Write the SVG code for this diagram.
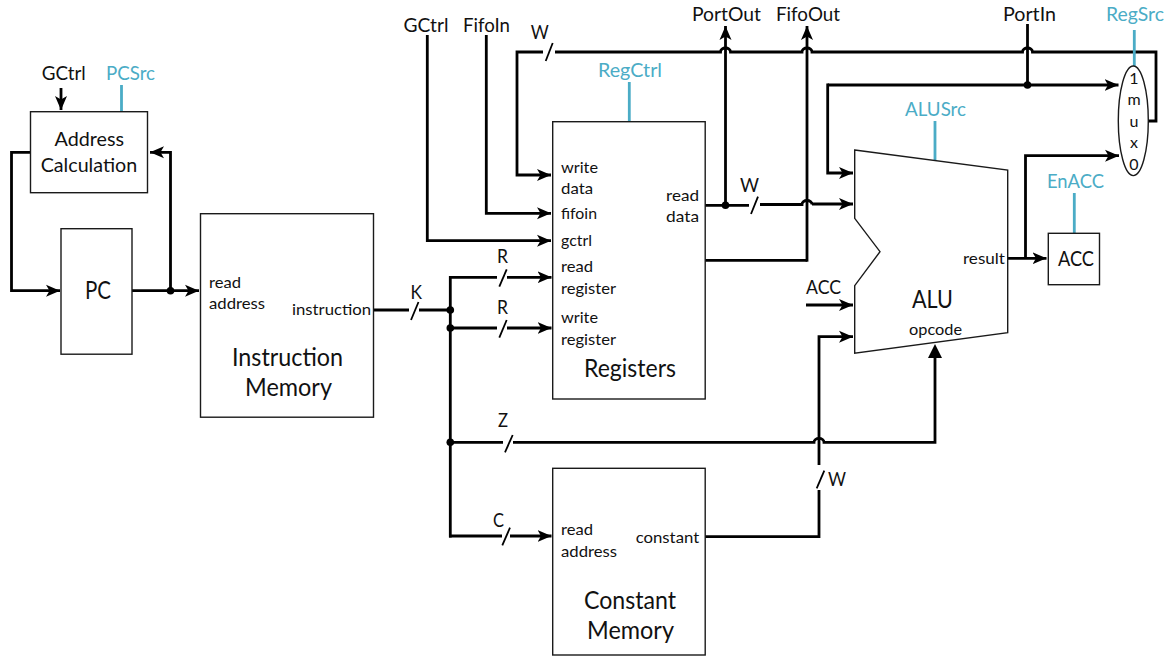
<svg xmlns="http://www.w3.org/2000/svg" width="1170" height="659" viewBox="0 0 1170 659">
<style>
text{font-family:Lato,"Open Sans",sans-serif;fill:#111;font-size:20px}
.s{font-size:16px}.m{font-size:21px}.l{font-size:25px}.c{fill:#4bacc6}
.b{fill:#fff;stroke:#1a1a1a;stroke-width:1.4}
.w{fill:none;stroke:#000;stroke-width:2.8}
.a{marker-end:url(#ah)}
.t{fill:none;stroke:#000;stroke-width:1.8}
.q{fill:none;stroke:#4bacc6;stroke-width:2.8}
.d{fill:#000}
</style>
<defs><marker id="ah" markerUnits="userSpaceOnUse" markerWidth="15" markerHeight="14" refX="14" refY="7" orient="auto"><path d="M0 1L14 7L0 13L3.500 7Z" fill="#000"/></marker></defs>
<g id="connectors">
<path class="w a" d="M30 152.300H11.500V290.700H60"/>
<path class="w a" d="M132 290.700H199"/>
<path class="w a" d="M170.500 290.700V152.300H150"/>
<path class="w a" d="M61 88V110"/>
<path class="w" d="M373.500 310H409M419 310H450.300"/>
<path class="t" d="M411 320L418.500 302"/>
<path class="w" d="M450.300 276V537.400"/>
<path class="w a" d="M449 277.300H497M507 277.300H551.500"/>
<path class="t" d="M499.300 286.700L506.700 269.300"/>
<path class="w a" d="M450.300 328H497M507 328H551.500"/>
<path class="t" d="M499.300 337.700L506.700 320"/>
<path class="w a" d="M449 536H502M510 536H551.500"/>
<path class="t" d="M502.300 545.300L510 527.700"/>
<path class="t" d="M505 452.300L512.700 435"/>
<path class="w" d="M450.300 442.300H503M513 442.300H814a5 4 0 0 1 10 0H935V358"/>
<path d="M928 358L935 344L942 358Z" class="d"/>
<path class="w a" d="M427.300 35V240.700H551"/>
<path class="w a" d="M486.300 35V213.300H551"/>
<path class="w a" d="M1148 121H1156V52H1032.500a5 4 0 0 0 -10 0H812a5 4 0 0 0 -10 0H730.500a5 4 0 0 0 -10 0H555M543 52H517V175H551"/>
<path class="t" d="M545.700 61L552.700 43"/>
<path class="w a" d="M725.500 205V26"/>
<path class="w a" d="M807 261.700V26"/>
<path class="w" d="M705 260.300H807"/>
<path class="w" d="M1027.500 24V85"/>
<path class="w a" d="M827.700 85H1118.500"/>
<path class="w a" d="M829 85H827.700V173H853"/>
<path class="w" d="M705 205.300H749M760 204.500H802a5 4 0 0 1 10 0"/>
<path class="w a" d="M812 204H853"/>
<path class="t" d="M751 214L758 196.700"/>
<path class="w a" d="M806 305H853"/>
<path class="w a" d="M705 536.700H819V490M819 465V336.700H853"/>
<path class="t" d="M816.700 488.300L824.300 470.700"/>
<path class="w a" d="M1007.700 258.300H1046.500"/>
<path class="w a" d="M1025.500 258.300V155.700H1119"/>
<circle class="d" cx="170.500" cy="290.700" r="3.800"/>
<circle class="d" cx="450.300" cy="310" r="3.800"/>
<circle class="d" cx="450.300" cy="328" r="3.800"/>
<circle class="d" cx="450.300" cy="442.300" r="3.800"/>
<circle class="d" cx="725.500" cy="205.300" r="3.800"/>
<circle class="d" cx="1027.500" cy="85" r="3.800"/>
<path class="q" d="M121.500 85V111M629.300 82V122M935 121V160M1074.300 193V233M1134.300 30V66"/>
</g>
<g id="address-calculation"><rect class="b" x="30.500" y="111.700" width="117" height="81"/>
<text x="54.500" y="146" textLength="69.500" lengthAdjust="spacingAndGlyphs">Address</text>
<text x="40.700" y="171.700" textLength="96.500" lengthAdjust="spacingAndGlyphs">Calculation</text></g>
<g id="pc"><rect class="b" x="61" y="228.700" width="71" height="125.500"/>
<text class="l" x="85" y="299" textLength="26" lengthAdjust="spacingAndGlyphs">PC</text></g>
<g id="instruction-memory"><rect class="b" x="200.500" y="213.700" width="173" height="203.500"/>
<text class="s" x="209" y="287.700" textLength="32" lengthAdjust="spacingAndGlyphs">read</text>
<text class="s" x="209" y="309.300" textLength="56" lengthAdjust="spacingAndGlyphs">address</text>
<text class="s" x="292" y="315" textLength="79" lengthAdjust="spacingAndGlyphs">instruction</text>
<text class="l" x="232" y="366" textLength="111" lengthAdjust="spacingAndGlyphs">Instruction</text>
<text class="l" x="245" y="396" textLength="87" lengthAdjust="spacingAndGlyphs">Memory</text></g>
<g id="registers"><rect class="b" x="552.700" y="121.700" width="152.500" height="277.300"/>
<text class="s" x="561" y="173" textLength="37" lengthAdjust="spacingAndGlyphs">write</text>
<text class="s" x="561" y="194" textLength="32" lengthAdjust="spacingAndGlyphs">data</text>
<text class="s" x="561" y="219" textLength="36" lengthAdjust="spacingAndGlyphs">fifoin</text>
<text class="s" x="561" y="246" textLength="31" lengthAdjust="spacingAndGlyphs">gctrl</text>
<text class="s" x="561" y="272" textLength="32" lengthAdjust="spacingAndGlyphs">read</text>
<text class="s" x="561" y="294" textLength="55" lengthAdjust="spacingAndGlyphs">register</text>
<text class="s" x="561" y="323" textLength="37" lengthAdjust="spacingAndGlyphs">write</text>
<text class="s" x="561" y="345" textLength="55" lengthAdjust="spacingAndGlyphs">register</text>
<text class="s" x="666" y="200.700" textLength="33" lengthAdjust="spacingAndGlyphs">read</text>
<text class="s" x="666" y="222" textLength="33" lengthAdjust="spacingAndGlyphs">data</text>
<text class="l" x="584" y="376.700" textLength="92" lengthAdjust="spacingAndGlyphs">Registers</text></g>
<g id="constant-memory"><rect class="b" x="552.700" y="468.300" width="152.500" height="186.700"/>
<text class="s" x="561" y="535" textLength="32" lengthAdjust="spacingAndGlyphs">read</text>
<text class="s" x="561" y="557" textLength="56" lengthAdjust="spacingAndGlyphs">address</text>
<text class="s" x="635.700" y="542.700" textLength="63.500" lengthAdjust="spacingAndGlyphs">constant</text>
<text class="l" x="584" y="609" textLength="92" lengthAdjust="spacingAndGlyphs">Constant</text>
<text class="l" x="587" y="639" textLength="87" lengthAdjust="spacingAndGlyphs">Memory</text></g>
<g id="alu"><path class="b" d="M854.700 150L1007.700 170V332.700L854.700 353.300V285.700L880 251.700L854.700 218.300Z"/>
<text class="l" x="912" y="307.700" textLength="41" lengthAdjust="spacingAndGlyphs">ALU</text>
<text class="s" x="909" y="335" textLength="53" lengthAdjust="spacingAndGlyphs">opcode</text>
<text class="s" x="963" y="264" textLength="42" lengthAdjust="spacingAndGlyphs">result</text></g>
<g id="acc"><rect class="b" x="1048.300" y="233.300" width="51.200" height="51.400"/>
<text class="m" x="1058" y="266" textLength="36" lengthAdjust="spacingAndGlyphs">ACC</text></g>
<g id="mux"><ellipse class="b" cx="1133.300" cy="120.800" rx="15" ry="54.800"/>
<text class="s" text-anchor="middle" x="1134" y="84">1</text><text class="s" text-anchor="middle" x="1134" y="105">m</text><text class="s" text-anchor="middle" x="1134" y="127">u</text><text class="s" text-anchor="middle" x="1134" y="148">x</text><text class="s" text-anchor="middle" x="1134" y="170">0</text></g>
<g id="labels">
<text x="41.700" y="80" textLength="44" lengthAdjust="spacingAndGlyphs">GCtrl</text>
<text class="c" x="106" y="80" textLength="49" lengthAdjust="spacingAndGlyphs">PCSrc</text>
<text x="403.500" y="32" textLength="45" lengthAdjust="spacingAndGlyphs">GCtrl</text>
<text x="463" y="32" textLength="47" lengthAdjust="spacingAndGlyphs">FifoIn</text>
<text x="530.700" y="39" textLength="18" lengthAdjust="spacingAndGlyphs">W</text>
<text class="c" x="598" y="77" textLength="64" lengthAdjust="spacingAndGlyphs">RegCtrl</text>
<text x="692" y="21" textLength="69" lengthAdjust="spacingAndGlyphs">PortOut</text>
<text x="776" y="21" textLength="64" lengthAdjust="spacingAndGlyphs">FifoOut</text>
<text x="1003" y="21" textLength="53" lengthAdjust="spacingAndGlyphs">PortIn</text>
<text class="c" x="1106" y="21" textLength="58" lengthAdjust="spacingAndGlyphs">RegSrc</text>
<text class="c" x="905" y="115.700" textLength="61" lengthAdjust="spacingAndGlyphs">ALUSrc</text>
<text class="c" x="1047" y="188" textLength="57" lengthAdjust="spacingAndGlyphs">EnACC</text>
<text x="740" y="191.700" textLength="19" lengthAdjust="spacingAndGlyphs">W</text>
<text x="806" y="294" textLength="35" lengthAdjust="spacingAndGlyphs">ACC</text>
<text x="828" y="485.700" textLength="18" lengthAdjust="spacingAndGlyphs">W</text>
<text x="497" y="263" textLength="11" lengthAdjust="spacingAndGlyphs">R</text>
<text x="497" y="314" textLength="11" lengthAdjust="spacingAndGlyphs">R</text>
<text x="410.500" y="299" textLength="11.500" lengthAdjust="spacingAndGlyphs">K</text>
<text x="498" y="427" textLength="10" lengthAdjust="spacingAndGlyphs">Z</text>
<text x="493" y="526.700" textLength="11" lengthAdjust="spacingAndGlyphs">C</text>
</g>
</svg>
